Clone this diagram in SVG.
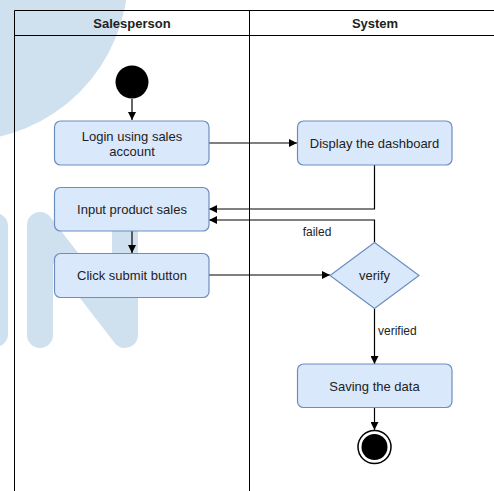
<svg xmlns="http://www.w3.org/2000/svg" width="494" height="491" viewBox="0 0 494 491">
<style>
.wm{fill:none;stroke:#cfe0ef;stroke-width:26;stroke-linecap:round;stroke-linejoin:round}
.lane{fill:none;stroke:#000;stroke-width:1}
.hdr{font-family:"Liberation Sans",Arial,sans-serif;font-size:13px;font-weight:bold;fill:#222;text-anchor:middle}
.box{fill:#dae8fc;stroke:#6c8ebf;stroke-width:1.2}
.t{font-family:"Liberation Sans",Arial,sans-serif;font-size:13px;fill:#222;text-anchor:middle}
.lbl{font-family:"Liberation Sans",Arial,sans-serif;font-size:12px;fill:#222}
.edge{fill:none;stroke:#000;stroke-width:1.2}
</style>
<defs>
<marker id="arr" viewBox="0 0 10 10" refX="10" refY="5" markerWidth="8" markerHeight="8" markerUnits="userSpaceOnUse" orient="auto">
<path d="M0,0 L10,5 L0,10 Z" fill="#000"/>
</marker>
</defs>
<rect width="494" height="491" fill="#fff"/>
<g id="watermark">
<circle cx="-38" cy="-25" r="166" fill="#cfe0ef"/>
<path class="wm" d="M-5,226 L-5,334"/>
<path class="wm" d="M40,335 L40,225 L125,335 L125,225"/>
</g>
<g id="pool">
<path class="lane" d="M14.5,491 L14.5,10.5 L500,10.5"/>
<path class="lane" d="M14.5,35.5 L500,35.5" stroke="#333"/>
<path class="lane" d="M249.5,10.5 L249.5,491"/>
<text class="hdr" x="132" y="28">Salesperson</text>
<text class="hdr" x="375" y="28">System</text>
</g>
<g id="connectors">
<path class="edge" d="M132,99 L132,120" marker-end="url(#arr)"/>
<path class="edge" d="M209,143 L297,143" marker-end="url(#arr)"/>
<path class="edge" d="M374.5,165 L374.5,209 L209,209" marker-end="url(#arr)"/>
<path class="edge" d="M374.5,242.5 L374.5,220 L209,220" marker-end="url(#arr)"/>
<path class="edge" d="M132,231 L132,253" marker-end="url(#arr)"/>
<path class="edge" d="M209,275 L330,275" marker-end="url(#arr)"/>
<path class="edge" d="M374.5,308.5 L374.5,364" marker-end="url(#arr)"/>
<path class="edge" d="M374.5,408 L374.5,430" marker-end="url(#arr)"/>
<text class="lbl" x="317" y="236" text-anchor="middle">failed</text>
<text class="lbl" x="378" y="335">verified</text>
</g>
<g id="start">
<circle cx="132" cy="82" r="16.5" fill="#000"/>
</g>
<g id="login">
<rect class="box" x="54.5" y="121" width="154.5" height="44" rx="6"/>
<text class="t" x="132" y="140.5">Login using sales</text>
<text class="t" x="132" y="155.5">account</text>
</g>
<g id="display">
<rect class="box" x="297.5" y="121" width="154.5" height="44" rx="6"/>
<text class="t" x="374.5" y="147.5">Display the dashboard</text>
</g>
<g id="input">
<rect class="box" x="54.5" y="187.5" width="154.5" height="43.5" rx="6"/>
<text class="t" x="132" y="213.5">Input product sales</text>
</g>
<g id="click">
<rect class="box" x="54.5" y="253.5" width="154.5" height="44" rx="6"/>
<text class="t" x="132" y="279.5">Click submit button</text>
</g>
<g id="verify">
<path class="box" d="M374.5,242.5 L419,275.5 L374.5,308.5 L330,275.5 Z"/>
<text class="t" x="374.5" y="280">verify</text>
</g>
<g id="saving">
<rect class="box" x="297.5" y="364" width="154.5" height="43.5" rx="6"/>
<text class="t" x="374.5" y="390.5">Saving the data</text>
</g>
<g id="end">
<circle cx="374.5" cy="447" r="16.5" fill="#fff" stroke="#000" stroke-width="1.5"/>
<circle cx="374.5" cy="447" r="13" fill="#000"/>
</g>
</svg>
